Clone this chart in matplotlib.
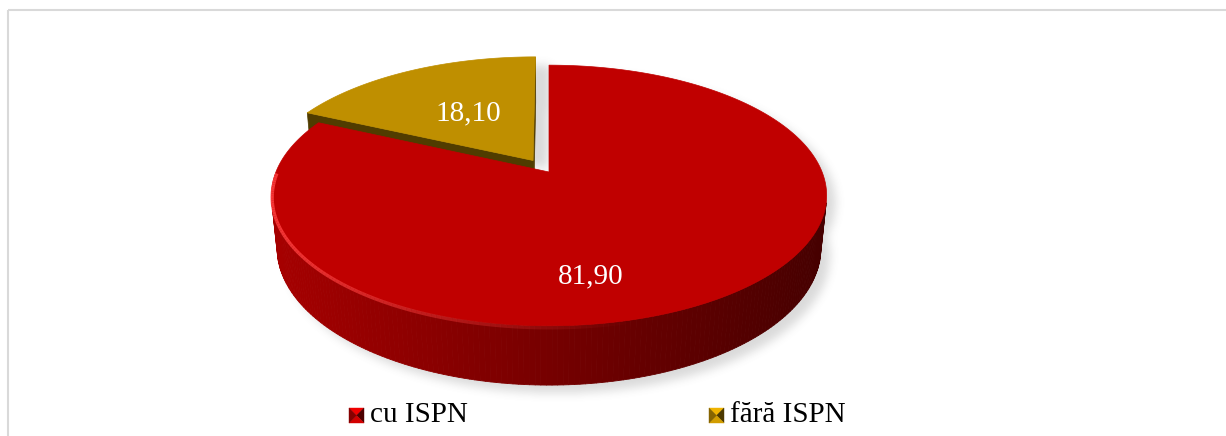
import numpy as np
import matplotlib
matplotlib.use('Agg')
import matplotlib.pyplot as plt
from matplotlib.path import Path
from matplotlib.patches import Polygon, Rectangle
from matplotlib.collections import PolyCollection, LineCollection
import matplotlib.colors as mcolors

# ---------------- data ----------------
categories = ['cu ISPN', 'fără ISPN']
values = [81.90, 18.10]
value_labels = ['81,90', '18,10']

# ---------------- style ----------------
top_colors = ['#C00000', '#BF8F00']
explode = [0.0, 0.11]
label_pos = [(591, 276), (468, 113)]          # pixel positions of value labels
FONT = 'Liberation Serif'

W, HPX = 1226, 436
fig = plt.figure(figsize=(W / 100, HPX / 100), dpi=100)
ax = fig.add_axes([0, 0, 1, 1])
ax.set_xlim(0, W)
ax.set_ylim(HPX, 0)
ax.axis('off')

# outer frame
ax.add_patch(Rectangle((7.5, 10.5), 1240, 460, fill=False, ec='#D9D9D9', lw=1.5, zorder=1))

# ---------------- 3D perspective projection ----------------
cx, cy = 549, 172
s = 1345.0
D = 4.925
e = np.radians(27.5)
se, ce = np.sin(e), np.cos(e)
THICK = 0.2187
cam = np.array([0.0, -D * ce, D * se])


def proj(u, v, h):
    u = np.asarray(u, float); v = np.asarray(v, float); h = np.asarray(h, float)
    depth = D + v * ce - h * se
    X = cx + s * u / depth
    Y = cy - s * (v * se + h * ce) / depth
    return X, Y


def shade(rgb, f):
    r, g, b = mcolors.to_rgb(rgb)
    return (min(r * f, 1), min(g * f, 1), min(b * f, 1))


total = sum(values)
slices = []
start = 90.0
for val in values:
    sweep = val / total * 360.0
    slices.append((start, start - sweep))
    start -= sweep

slice_polys = {}


def draw_slice(i, zbase):
    a0, a1 = slices[i]
    mid = np.radians((a0 + a1) / 2)
    du, dv = explode[i] * np.cos(mid), explode[i] * np.sin(mid)
    t = np.radians(np.linspace(a0, a1, 300))
    base = top_colors[i]
    u = du + np.cos(t)
    v = dv + np.sin(t)
    xt, yt = proj(u, v, 0 * t)
    xb, yb = proj(u, v, -THICK + 0 * t)
    # outer wall strips
    polys, cols = [], []
    for k in range(len(t) - 1):
        tm = (t[k] + t[k + 1]) / 2
        n = np.array([np.cos(tm), np.sin(tm), 0])
        p = np.array([du + np.cos(tm), dv + np.sin(tm), -THICK / 2])
        if np.dot(n, cam - p) <= 0:
            continue
        xm = (xt[k] + xt[k + 1]) / 2
        frac = np.clip((xm - 275) / (830 - 275), 0, 1)
        f = 0.86 - 0.50 * frac
        polys.append([(xt[k], yt[k]), (xt[k + 1], yt[k + 1]),
                      (xb[k + 1], yb[k + 1]), (xb[k], yb[k])])
        cols.append(shade(base, f))
    if polys:
        pc = PolyCollection(polys, facecolors=cols, edgecolors=cols, lw=0.6, zorder=zbase)
        ax.add_collection(pc)
    # cut faces
    for ang, sgn in ((a0, 1), (a1, -1)):
        r = np.radians(ang)
        n = np.array([np.cos(r + sgn * np.pi / 2), np.sin(r + sgn * np.pi / 2), 0])
        p = np.array([du + 0.5 * np.cos(r), dv + 0.5 * np.sin(r), -THICK / 2])
        if np.dot(n, cam - p) <= 1e-6:
            continue
        uu = [du, du + np.cos(r), du + np.cos(r), du]
        vv = [dv, dv + np.sin(r), dv + np.sin(r), dv]
        hh = [0, 0, -THICK, -THICK]
        X, Y = proj(uu, vv, hh)
        ax.add_patch(Polygon(np.c_[X, Y], closed=True, fc=shade(base, 0.42),
                             ec=shade(base, 0.42), lw=0.5, zorder=zbase + 1))
    # top face
    xc, yc = proj(du, dv, 0)
    top = np.vstack([[xc, yc], np.c_[xt, yt]])
    ax.add_patch(Polygon(top, closed=True, fc=base, ec=base, lw=0.5, zorder=zbase + 2))
    # rim highlight along visible front rim
    segs, scol = [], []
    for k in range(len(t) - 1):
        tm = (t[k] + t[k + 1]) / 2
        if np.sin(tm) > 0.0:
            continue
        xm = (xt[k] + xt[k + 1]) / 2
        frac = np.clip((xm - 272) / (640 - 272), 0, 1)
        a = 0.85 * (1 - frac) ** 1.2
        if a <= 0.02:
            continue
        segs.append([(xt[k] + 0.8, yt[k] + 2.0), (xt[k + 1] + 0.8, yt[k + 1] + 2.0)])
        scol.append((1.0, 0.25, 0.25, a))
    if segs:
        ax.add_collection(LineCollection(segs, colors=scol, lw=2.4, zorder=zbase + 3))
    slice_polys[i] = [np.vstack([np.c_[xt, yt], np.c_[xb, yb][::-1]]), top]


# draw gold (behind) first, then red
draw_slice(1, 10)
draw_slice(0, 20)

# ---------------- soft shadow ----------------
gy, gx = np.mgrid[0:HPX, 0:W]
pts = np.c_[gx.ravel() + 0.5, gy.ravel() + 0.5]
mask = np.zeros(HPX * W, bool)
offsets = {0: np.array([9.0, 8.0]), 1: np.array([15.0, 9.0])}
for i, plist in slice_polys.items():
    for P in plist:
        mask |= Path(P + offsets[i]).contains_points(pts)
mask = mask.reshape(HPX, W).astype(float)


def box_blur(a, r, axis):
    pad = [(r + 1, r) if k == axis else (0, 0) for k in range(2)]
    c = np.cumsum(np.pad(a, pad, mode='edge'), axis=axis)
    if axis == 0:
        return (c[2 * r + 1:, :] - c[:-2 * r - 1, :]) / (2 * r + 1)
    return (c[:, 2 * r + 1:] - c[:, :-2 * r - 1]) / (2 * r + 1)


sh = mask
for _ in range(3):
    sh = box_blur(sh, 4, 0)
    sh = box_blur(sh, 4, 1)
rgba = np.zeros((HPX, W, 4))
rgba[..., :3] = 0.35
rgba[..., 3] = sh * 0.22
ax.imshow(rgba, extent=(0, W, HPX, 0), zorder=2, interpolation='bilinear')
ax.set_xlim(0, W)
ax.set_ylim(HPX, 0)

# ---------------- value labels ----------------
for lab, (lx, ly) in zip(value_labels, label_pos):
    ax.text(lx, ly, lab, color='white', fontsize=21, family=FONT,
            ha='center', va='center', zorder=40)


# ---------------- legend ----------------
def bevel_marker(x0, y0, size, base):
    xc, yc = x0 + size / 2, y0 + size / 2
    corners = [(x0, y0), (x0 + size, y0), (x0 + size, y0 + size), (x0, y0 + size)]
    shades = [1.25, 0.40, 1.10, 0.70]  # top, right, bottom, left
    for k in range(4):
        p1, p2 = corners[k], corners[(k + 1) % 4]
        c = np.clip(np.array(mcolors.to_rgb(base)) * shades[k], 0, 1)
        ax.add_patch(Polygon([p1, p2, (xc, yc)], closed=True, fc=c, ec=c, lw=0.3, zorder=40))


legend_x = [349, 709]
for cat, col, lx in zip(categories, top_colors, legend_x):
    bevel_marker(lx, 408, 15, col)
    ax.text(lx + 21.5, 415, cat, color='black', fontsize=21, family=FONT,
            ha='left', va='center', zorder=40)

fig.savefig('out.png', dpi=100, facecolor='white')
